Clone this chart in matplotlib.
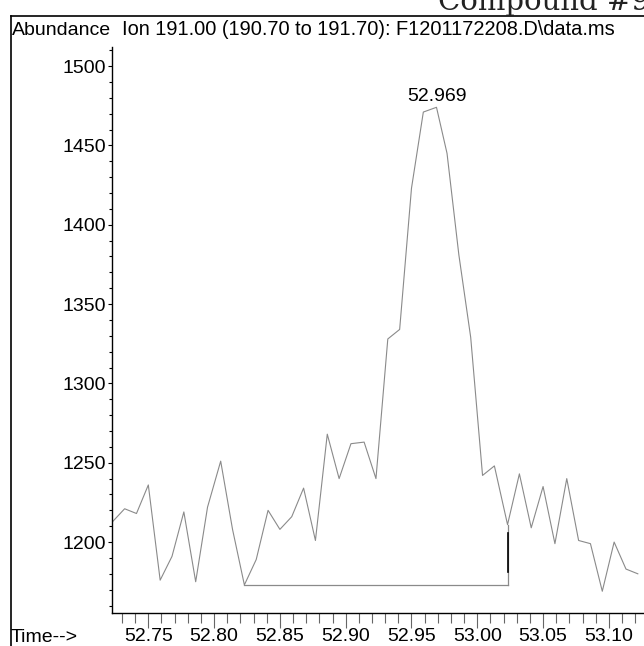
import numpy as np
import matplotlib.pyplot as plt
from matplotlib.lines import Line2D
from matplotlib.ticker import MultipleLocator, FixedLocator

plt.rcParams['font.family'] = ['Liberation Sans', 'DejaVu Sans']

# scan times (min) and abundances
times = [52.723, 52.732, 52.741, 52.750, 52.759, 52.768, 52.777, 52.786, 52.795,
         52.805, 52.814, 52.823, 52.832, 52.841, 52.850, 52.859, 52.868, 52.877,
         52.886, 52.895, 52.904, 52.914, 52.923, 52.932, 52.941, 52.950, 52.959,
         52.969, 52.977, 52.986, 52.995, 53.004, 53.013, 53.023, 53.032, 53.041,
         53.050, 53.059, 53.068, 53.077, 53.086, 53.095, 53.104, 53.113, 53.122]
abundance = [1213, 1221, 1218, 1236, 1176, 1191, 1219, 1175, 1222,
             1251, 1208, 1173, 1189, 1220, 1208, 1216, 1234, 1201,
             1268, 1240, 1262, 1263, 1240, 1328, 1334, 1423, 1471,
             1474, 1445, 1381, 1329, 1242, 1248, 1211, 1243, 1209,
             1235, 1199, 1240, 1201, 1199, 1169, 1200, 1183, 1180]

peak_label = "52.969"
base_start, base_end = 52.823, 53.023
base_level = 1173
xticks = [52.75, 52.80, 52.85, 52.90, 52.95, 53.00, 53.05, 53.10]
yticks = [1200, 1250, 1300, 1350, 1400, 1450, 1500]

W, H = 644, 646
fig = plt.figure(figsize=(W / 100, H / 100), dpi=100)
ax = fig.add_axes([112 / W, (H - 613) / H, (W - 112) / W, (613 - 47) / H])

ax.plot(times, abundance, color='#8a8a8a', lw=0.8)

# integration baseline and end drop line
ax.plot([base_start, base_end], [base_level, base_level], color='#8a8a8a', lw=0.9)
ax.plot([base_end, base_end], [abundance[33], base_level], color='#8a8a8a', lw=0.9)
ax.plot([base_end, base_end], [1205.5, 1181], color='black', lw=1.2)

ax.annotate(peak_label, xy=(times[27], abundance[27]), xytext=(0, 1.5),
            textcoords='offset points', ha='center', va='bottom', fontsize=14)

ax.set_xlim(52.7224, 53.1267)
ax.set_ylim(1155.3, 1512)
ax.set_xticks(xticks)
ax.set_xticklabels([f"{t:.2f}" for t in xticks])
ax.xaxis.set_minor_locator(FixedLocator(np.round(np.arange(52.73, 53.125, 0.01), 2)))
ax.set_yticks(yticks)
ax.yaxis.set_minor_locator(MultipleLocator(10))

for s in ['top', 'right']:
    ax.spines[s].set_visible(False)
ax.spines['left'].set_linewidth(1.0)
ax.spines['bottom'].set_linewidth(1.0)

ax.tick_params(axis='y', which='major', length=3, width=0.8, pad=1, labelsize=14)
ax.tick_params(axis='y', which='minor', length=2, width=0.8)
ax.tick_params(axis='x', which='major', length=11, width=0.8, pad=0, labelsize=14,
               color='#666666')
ax.tick_params(axis='x', which='minor', length=7, width=0.8, color='#666666')

# header and frame
fig.text(12 / W, 1 - 35 / H, "Abundance", fontsize=14, va='baseline')
fig.text(122 / W, 1 - 35 / H, "Ion 191.00 (190.70 to 191.70): F1201172208.D\\data.ms",
         fontsize=14.4, va='baseline')
fig.text(11 / W, 1 - 642 / H, "Time-->", fontsize=14, va='baseline')
fig.text(438 / W, 1 - 10 / H, "Compound #9", family='DejaVu Serif', fontsize=21,
         va='baseline', color='#222222')

fig.add_artist(Line2D([11 / W, 11 / W], [0, 1 - 16 / H], transform=fig.transFigure,
                      color='black', lw=1.2))
fig.add_artist(Line2D([11 / W, 1], [1 - 16 / H, 1 - 16 / H], transform=fig.transFigure,
                      color='black', lw=1.2))

fig.savefig('out.png', dpi=100)
